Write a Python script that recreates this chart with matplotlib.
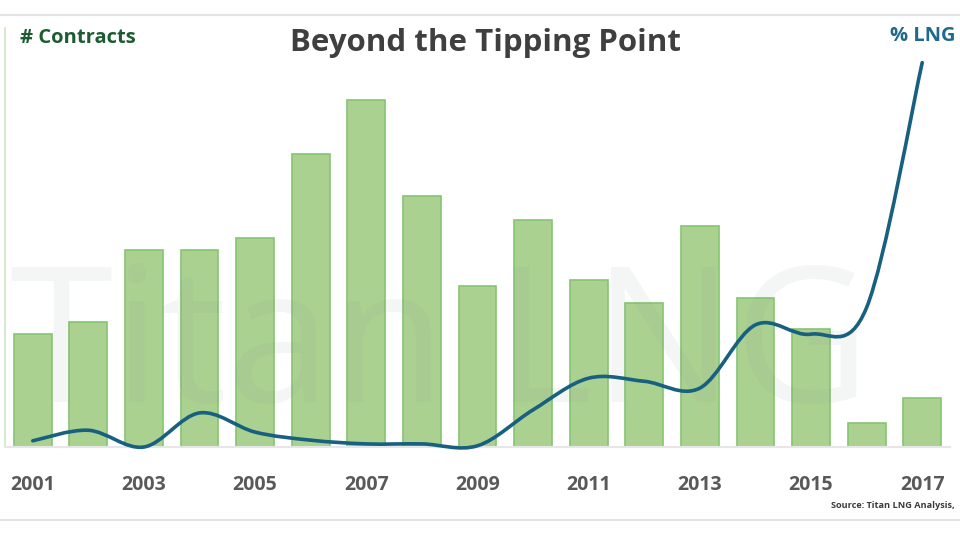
import matplotlib
matplotlib.use("Agg")
import matplotlib.pyplot as plt
from matplotlib.path import Path
from matplotlib.patches import PathPatch
from matplotlib.lines import Line2D

years = list(range(2001, 2018))
contracts = [9.8, 10.9, 17.1, 17.1, 18.2, 25.5, 30.2, 21.8, 14.0, 19.7,
             14.5, 12.5, 19.2, 13.0, 10.3, 2.1, 4.3]
pct_lng = [1.0, 2.7, 0.0, 5.5, 2.4, 1.1, 0.5, 0.5, 0.2, 6.0,
           11.1, 10.6, 9.5, 19.7, 18.2, 22.5, 62.0]
tick_years = [2001, 2003, 2005, 2007, 2009, 2011, 2013, 2015, 2017]

title = "Beyond the Tipping Point"
left_label = "# Contracts"
right_label = "% LNG"
source = "Source: Titan LNG Analysis,"

FONT = "Open Sans"
BAR_FILL = "#abd191"
BAR_EDGE = "#86c472"
LINE_COLOR = "#17607f"


def smooth_path(xs, ys):
    # excel-style smoothed line as cubic bezier segments
    pts = list(zip(xs, ys))
    n = len(pts)
    verts = [pts[0]]
    codes = [Path.MOVETO]
    for i in range(n - 1):
        p0 = pts[i - 1] if i > 0 else pts[i]
        p1 = pts[i]
        p2 = pts[i + 1]
        p3 = pts[i + 2] if i + 2 < n else pts[i + 1]
        c1 = (p1[0] + (p2[0] - p0[0]) / 6, p1[1] + (p2[1] - p0[1]) / 6)
        c2 = (p2[0] - (p3[0] - p1[0]) / 6, p2[1] - (p3[1] - p1[1]) / 6)
        verts += [c1, c2, p2]
        codes += [Path.CURVE4] * 3
    return Path(verts, codes)


fig = plt.figure(figsize=(9.6, 5.4), dpi=100)
fig.patch.set_facecolor("white")

# frame lines top / bottom
fig.add_artist(Line2D([0, 1], [1 - 15 / 540, 1 - 15 / 540], color="#e3e3e3", lw=1.5))
fig.add_artist(Line2D([0, 1], [20 / 540, 20 / 540], color="#e3e3e3", lw=1.5))

ax = fig.add_axes([5 / 960, 93 / 540, 945 / 960, 419 / 540])
ax.set_facecolor("none")

ax.bar(years, contracts, width=0.68, color=BAR_FILL, edgecolor=BAR_EDGE,
       linewidth=1.2, zorder=2)
ax.set_xlim(2000.5, 2017.5)
ax.set_ylim(0, 419 / 11.5)

# faint watermark
ax.text(0.005, 0.0, "Titan LNG", transform=ax.transAxes, fontsize=135,
        family=FONT, color="#7f8c86", alpha=0.08, ha="left", va="bottom",
        zorder=3)

for s in ["top", "right"]:
    ax.spines[s].set_visible(False)
ax.spines["left"].set_color("#cfe6c5")
ax.spines["left"].set_linewidth(1.2)
ax.spines["bottom"].set_color("#e6e6e6")
ax.spines["bottom"].set_linewidth(1.5)
ax.set_yticks([])
ax.set_xticks(tick_years)
ax.set_xticklabels([str(y) for y in tick_years], family=FONT,
                   fontweight="bold", fontsize=14, color="#595959")
ax.tick_params(axis="x", length=0, pad=20)

ax2 = ax.twinx()
ax2.set_ylim(0, 419 / 6.2)
ax2.set_yticks([])
for s in ax2.spines.values():
    s.set_visible(False)
ax2.add_patch(PathPatch(smooth_path(years, pct_lng), facecolor="none",
                        edgecolor=LINE_COLOR, lw=2.6, capstyle="round",
                        clip_on=False, zorder=5))

fig.text(485 / 960, 1 - 43 / 540, title, family=FONT, fontweight="bold",
         fontsize=22.5, color="#3f3f3f", ha="center", va="center")
fig.text(20 / 960, 1 - 38 / 540, left_label, family=FONT, fontweight="bold",
         fontsize=14.5, color="#1d5c33", ha="left", va="center")
fig.text(955 / 960, 1 - 36 / 540, right_label, family=FONT, fontweight="bold",
         fontsize=14.5, color="#1f6a8c", ha="right", va="center")
fig.text(955 / 960, 1 - 506 / 540, source, family=FONT, fontweight="bold",
         fontsize=6.6, color="#3a3a3a", ha="right", va="center")

fig.savefig("out.png", dpi=100, facecolor="white")
